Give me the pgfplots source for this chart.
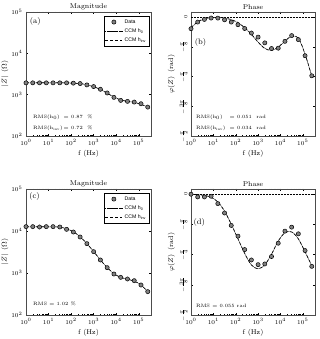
\documentclass[border=0pt]{standalone}
\usepackage{pgfplots}
\pgfplotsset{compat=1.18}
\usepackage{pgfplotstable}
\usepackage{fontspec}
\newfontfamily\legfont{Liberation Sans}

\pgfplotstableread{
f data h0 hinv
1 1930 1940 1945
1.995 1930 1940 1945
3.981 1930 1940 1945
7.943 1930 1940 1945
15.85 1930 1938 1943
31.62 1930 1935 1940
63.10 1930 1925 1930
125.9 1900 1900 1905
251.2 1855 1850 1850
501.2 1720 1740 1735
1000 1570 1560 1555
1995 1350 1340 1335
3981 1100 1090 1085
7943 860 880 875
15849 727 750 745
31623 688 690 685
63096 662 650 645
125893 603 590 585
251189 500 500 495
}\tabA

\pgfplotstableread{
f data h0 hinv
1 -0.153 -0.14 -0.14
1.995 -0.065 -0.065 -0.06
3.981 -0.030 -0.025 -0.02
7.943 -0.012 -0.008 -0.005
15.85 -0.013 -0.006 -0.004
31.62 -0.035 -0.015 -0.012
63.10 -0.065 -0.035 -0.032
125.9 -0.100 -0.075 -0.07
251.2 -0.150 -0.14 -0.14
501.2 -0.210 -0.23 -0.225
1000 -0.264 -0.33 -0.33
1995 -0.340 -0.41 -0.415
3981 -0.415 -0.44 -0.44
7943 -0.410 -0.40 -0.395
15849 -0.320 -0.32 -0.315
31623 -0.244 -0.255 -0.25
63096 -0.297 -0.275 -0.275
125893 -0.510 -0.49 -0.49
251189 -0.775 -0.78 -0.78
}\tabB

\pgfplotstableread{
f data h0 hinv
1 12700 12600 12650
1.995 12700 12600 12650
3.981 12450 12600 12650
7.943 12700 12600 12600
15.85 12700 12550 12550
31.62 12450 12350 12350
63.10 10950 11300 11300
125.9 9460 9600 9600
251.2 7200 7300 7300
501.2 5000 5000 5000
1000 3220 3250 3250
1995 2040 2050 2050
3981 1340 1350 1350
7943 946 960 960
15849 788 790 790
31623 720 710 710
63096 657 640 640
125893 518 520 520
251189 360 360 360
}\tabC

\pgfplotstableread{
f data h0 hinv
1 0 0 0
1.995 -0.035 -0.005 -0.005
3.981 -0.035 -0.015 -0.015
7.943 -0.026 -0.04 -0.04
15.85 -0.122 -0.10 -0.10
31.62 -0.244 -0.22 -0.22
63.10 -0.406 -0.39 -0.39
125.9 -0.545 -0.58 -0.58
251.2 -0.720 -0.77 -0.77
501.2 -0.855 -0.92 -0.92
1000 -0.916 -0.97 -0.97
1995 -0.907 -0.92 -0.92
3981 -0.810 -0.78 -0.78
7943 -0.637 -0.61 -0.61
15849 -0.480 -0.50 -0.50
31623 -0.428 -0.49 -0.49
63096 -0.515 -0.58 -0.58
125893 -0.733 -0.75 -0.75
251189 -0.938 -0.93 -0.93
}\tabD

\pgfplotsset{
  every axis/.append style={
    scale only axis,
    xtick={1,10,100,1000,10000,100000},
    tick label style={font=\fontsize{6}{7}\selectfont},
    label style={font=\fontsize{7}{8}\selectfont},
    title style={font=\fontsize{7}{8}\selectfont, yshift=-7pt},
    xlabel style={yshift=2pt},
    major tick length=2.5pt, minor tick length=1.3pt,
    tick style={black, line width=0.35pt},
    axis line style={line width=0.4pt, black!70},
    yminorticks=false,
    legend style={font=\legfont\fontsize{5.2}{6}\selectfont,
      at={(0.985,0.965)}, anchor=north east, draw=black, line width=0.4pt,
      inner sep=1pt, row sep=0pt, cells={anchor=west}},
  },
}
\tikzset{
  myData/.style={only marks, mark=*, mark size=2.1bp,
    mark options={fill=black!50, draw=black, line width=0.5pt}},
  myHzero/.style={black, line width=0.5pt, dash pattern=on 0.6pt off 0.6pt, smooth},
  myHinv/.style={black, line width=0.6pt, dash pattern=on 3pt off 2pt, smooth},
  myZero/.style={black, line width=0.4pt, dash pattern=on 0.6pt off 0.9pt},
  myRms/.style={font=\fontsize{4.8}{6}\selectfont, anchor=west, inner sep=0pt},
  myLbl/.style={font=\fontsize{8}{9}\selectfont, anchor=west, inner sep=0pt},
}

\begin{document}
\begin{tikzpicture}
\useasboundingbox (0bp,0bp) rectangle (320bp,339bp);

% (a)
\begin{axis}[at={(26bp,203bp)}, anchor=south west, width=125bp, height=124bp,
  xmode=log, ymode=log, xmin=1, xmax=3.5e5, ymin=100, ymax=1e5,
  ytick={100,1000,10000,100000},
  xlabel={f (Hz)}, ylabel={$|Z|$ \,($\Omega$)}, title={Magnitude},
  ylabel style={yshift=-4pt}]
\addplot[myData] table[x=f,y=data]{\tabA};
\addplot[myHzero] table[x=f,y=h0]{\tabA};
\addplot[myHinv] table[x=f,y=hinv]{\tabA};
\legend{Data, CCM h\textsubscript{0}, CCM h\textsubscript{inv}}
\node[myLbl] at (rel axis cs:0.03,0.925) {(a)};
\node[myRms] at (rel axis cs:0.056,0.153) {RMS(h$_0$)};
\node[myRms] at (rel axis cs:0.30,0.153) {$=$ 0.87 \ \%};
\node[myRms] at (rel axis cs:0.056,0.065) {RMS(h$_{\mathrm{inv}}$)};
\node[myRms] at (rel axis cs:0.30,0.065) {$=$ 0.72 \ \%};
\end{axis}

% (b)
\begin{axis}[at={(191bp,203bp)}, anchor=south west, width=124bp, height=124bp,
  xmode=log, xmin=1, xmax=3.5e5, ymin=-1.5708, ymax=0.068,
  ytick={-1.5708,-1.1781,-0.7854,-0.3927,0},
  yticklabels={$-\frac{\pi}{2}$,$-\frac{3\pi}{8}$,$-\frac{\pi}{4}$,$-\frac{\pi}{8}$,$0$},
  yticklabel style={rotate=90, anchor=south, font=\fontsize{5}{6}\selectfont},
  xlabel={f (Hz)}, ylabel={$\varphi(Z)$ \,(rad)}, title={Phase},
  ylabel style={yshift=-2pt}]
\addplot[myZero] coordinates {(1,0) (3.5e5,0)};
\addplot[myData] table[x=f,y=data]{\tabB};
\addplot[myHzero] table[x=f,y=h0]{\tabB};
\addplot[myHinv] table[x=f,y=hinv]{\tabB};
\node[myLbl] at (rel axis cs:0.03,0.75) {(b)};
\node[myRms] at (rel axis cs:0.04,0.153) {RMS(h$_0$)};
\node[myRms] at (rel axis cs:0.31,0.153) {$=$ 0.051 \ rad};
\node[myRms] at (rel axis cs:0.04,0.065) {RMS(h$_{\mathrm{inv}}$)};
\node[myRms] at (rel axis cs:0.31,0.065) {$=$ 0.034 \ rad};
\end{axis}

% (c)
\begin{axis}[at={(26bp,24bp)}, anchor=south west, width=125bp, height=126bp,
  xmode=log, ymode=log, xmin=1, xmax=3.5e5, ymin=100, ymax=1e5,
  ytick={100,1000,10000,100000},
  xlabel={f (Hz)}, ylabel={$|Z|$ \,($\Omega$)}, title={Magnitude},
  ylabel style={yshift=-4pt}]
\addplot[myData] table[x=f,y=data]{\tabC};
\addplot[myHzero] table[x=f,y=h0]{\tabC};
\addplot[myHinv] table[x=f,y=hinv]{\tabC};
\legend{Data, CCM h\textsubscript{0}, CCM h\textsubscript{inv}}
\node[myLbl] at (rel axis cs:0.025,0.944) {(c)};
\node[myRms] at (rel axis cs:0.056,0.09) {RMS $=$ 1.02 \%};
\end{axis}

% (d)
\begin{axis}[at={(191bp,24bp)}, anchor=south west, width=124bp, height=126bp,
  xmode=log, xmin=1, xmax=3.5e5, ymin=-1.5708, ymax=0.068,
  ytick={-1.5708,-1.1781,-0.7854,-0.3927,0},
  yticklabels={$-\frac{\pi}{2}$,$-\frac{3\pi}{8}$,$-\frac{\pi}{4}$,$-\frac{\pi}{8}$,$0$},
  yticklabel style={rotate=90, anchor=south, font=\fontsize{5}{6}\selectfont},
  xlabel={f (Hz)}, ylabel={$\varphi(Z)$ \,(rad)}, title={Phase},
  ylabel style={yshift=-2pt}]
\addplot[myZero] coordinates {(1,0) (3.5e5,0)};
\addplot[myData] table[x=f,y=data]{\tabD};
\addplot[myHzero] table[x=f,y=h0]{\tabD};
\addplot[myHinv] table[x=f,y=hinv]{\tabD};
\node[myLbl] at (rel axis cs:0.02,0.738) {(d)};
\node[myRms] at (rel axis cs:0.04,0.07) {RMS $=$ 0.055 rad};
\end{axis}
\end{tikzpicture}
\end{document}
